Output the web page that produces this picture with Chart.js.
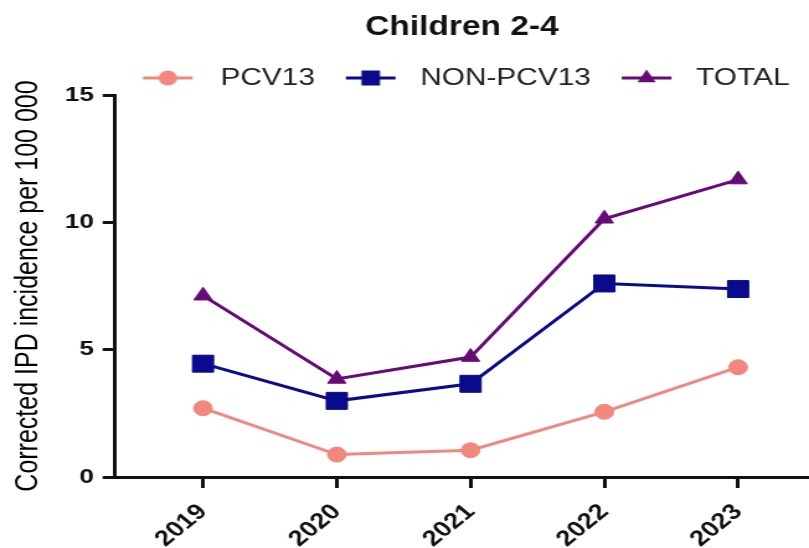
<!DOCTYPE html>
<html>
<head>
<meta charset="utf-8">
<script src="https://cdn.jsdelivr.net/npm/chart.js@4.4.1/dist/chart.umd.min.js"></script>
<style>
  html, body { margin: 0; padding: 0; background: #fff; overflow: hidden; }
  /* the figure is drawn at a narrower width and widened horizontally */
  #stage { width: 652px; height: 548px; transform: scaleX(1.2408); transform-origin: 0 0; }
</style>
</head>
<body>
<div id="stage"><canvas id="c" width="652" height="548"></canvas></div>
<script>
// Corrected IPD incidence per 100 000, children aged 2-4
const years = ['2019', '2020', '2021', '2022', '2023'];
const pcv13 = [2.70, 0.88, 1.05, 2.56, 4.31];
const nonPcv13 = [4.45, 2.99, 3.66, 7.60, 7.38];
const total = [7.12, 3.85, 4.71, 10.14, 11.68];
const yTicks = [0, 5, 10, 15];

const seriesNames = ['PCV13', 'NON-PCV13', 'TOTAL'];
const seriesColors = ['#F2877E', '#0A0A8C', '#660A78'];

Chart.defaults.font.family = '"Liberation Sans", Arial, Helvetica, sans-serif';
Chart.defaults.color = '#111';

const toPoints = arr => arr.map((v, i) => ({ x: i, y: v }));

// legend swatch: short line with the series marker in its middle
const SWATCH_W = 62;
function makeSwatch(color, shape, lineStart) {
  const cv = document.createElement('canvas');
  cv.width = SWATCH_W; cv.height = 22;
  const g = cv.getContext('2d');
  const cy = 11, x0 = lineStart, x1 = lineStart + 40, cx = (x0 + x1) / 2;
  g.strokeStyle = color; g.fillStyle = color; g.lineWidth = 3;
  g.beginPath(); g.moveTo(x0, cy); g.lineTo(x1, cy); g.stroke();
  g.beginPath();
  if (shape === 'circle') {
    g.arc(cx, cy, 7.5, 0, Math.PI * 2);
  } else if (shape === 'rect') {
    g.rect(cx - 7.5, cy - 7.5, 15, 15);
  } else {
    const r = 8.5;
    g.moveTo(cx, cy - r);
    g.lineTo(cx + r * Math.sin(2 * Math.PI / 3), cy + r / 2);
    g.lineTo(cx - r * Math.sin(2 * Math.PI / 3), cy + r / 2);
    g.closePath();
  }
  g.fill();
  return cv;
}
const shapes = ['circle', 'rect', 'triangle'];
const swatchLineStart = [11.5, 14, 14];
const swatches = seriesColors.map((c, i) => makeSwatch(c, shapes[i], swatchLineStart[i]));

const seriesData = [pcv13, nonPcv13, total];
const radii = [7.5, 12, 8.5];

const datasets = seriesNames.map((name, i) => ({
  label: name,
  data: toPoints(seriesData[i]),
  borderColor: seriesColors[i],
  backgroundColor: seriesColors[i],
  borderWidth: 3,
  pointStyle: shapes[i],
  pointRadius: radii[i],
  pointHoverRadius: radii[i],
  pointBorderWidth: 1,
  pointBackgroundColor: seriesColors[i],
  pointBorderColor: seriesColors[i],
  tension: 0,
  clip: false
}));

new Chart(document.getElementById('c'), {
  type: 'line',
  data: { datasets },
  options: {
    responsive: false,
    animation: false,
    devicePixelRatio: 1,
    layout: { autoPadding: false, padding: { top: 0, right: 0, bottom: 0, left: 0 } },
    plugins: {
      tooltip: { enabled: false },
      title: {
        display: true,
        text: 'Children 2-4',
        fullSize: false,
        color: '#111',
        font: { size: 27, weight: 'bold' },
        padding: { top: 11.5, bottom: 11.1 }
      },
      legend: {
        position: 'top',
        align: 'start',
        fullSize: false,
        maxHeight: 40,
        labels: {
          usePointStyle: true,
          pointStyleWidth: SWATCH_W,
          boxHeight: 20,
          padding: 11,
          color: '#222',
          font: { size: 24 },
          generateLabels: chart => chart.data.datasets.map((ds, i) => ({
            text: ds.label,
            pointStyle: swatches[i],
            datasetIndex: i,
            hidden: false,
            fontColor: '#222',
            lineWidth: 0,
            fillStyle: ds.backgroundColor,
            strokeStyle: ds.borderColor
          }))
        }
      }
    },
    scales: {
      x: {
        type: 'linear',
        min: -0.658,
        max: 4.53,
        afterBuildTicks: scale => { scale.ticks = years.map((_, i) => ({ value: i })); },
        afterFit: scale => { scale.height = 71; scale.paddingLeft = 0; scale.paddingRight = 0; },
        grid: {
          drawOnChartArea: false,
          drawTicks: true,
          tickLength: 11,
          tickWidth: 3,
          tickColor: '#111'
        },
        border: { display: true, width: 3, color: '#111' },
        ticks: {
          minRotation: 45,
          maxRotation: 45,
          padding: 11,
          color: '#111',
          font: { size: 22, weight: 'bold' },
          callback: v => years[v]
        }
      },
      y: {
        min: 0,
        max: 15,
        afterBuildTicks: scale => { scale.ticks = yTicks.map(v => ({ value: v })); },
        afterFit: scale => { scale.width = 92.7; },
        grid: {
          drawOnChartArea: false,
          drawTicks: true,
          tickLength: 10,
          tickWidth: 3,
          tickColor: '#111'
        },
        border: { display: true, width: 3, color: '#111' },
        ticks: {
          padding: 7,
          color: '#111',
          font: { size: 21, weight: 'bold' }
        },
        title: {
          display: true,
          text: 'Corrected IPD incidence per 100 000',
          color: '#000',
          font: { size: 25, weight: 'normal' },
          padding: { top: 8, bottom: 0 }
        }
      }
    }
  }
});
</script>
</body>
</html>
